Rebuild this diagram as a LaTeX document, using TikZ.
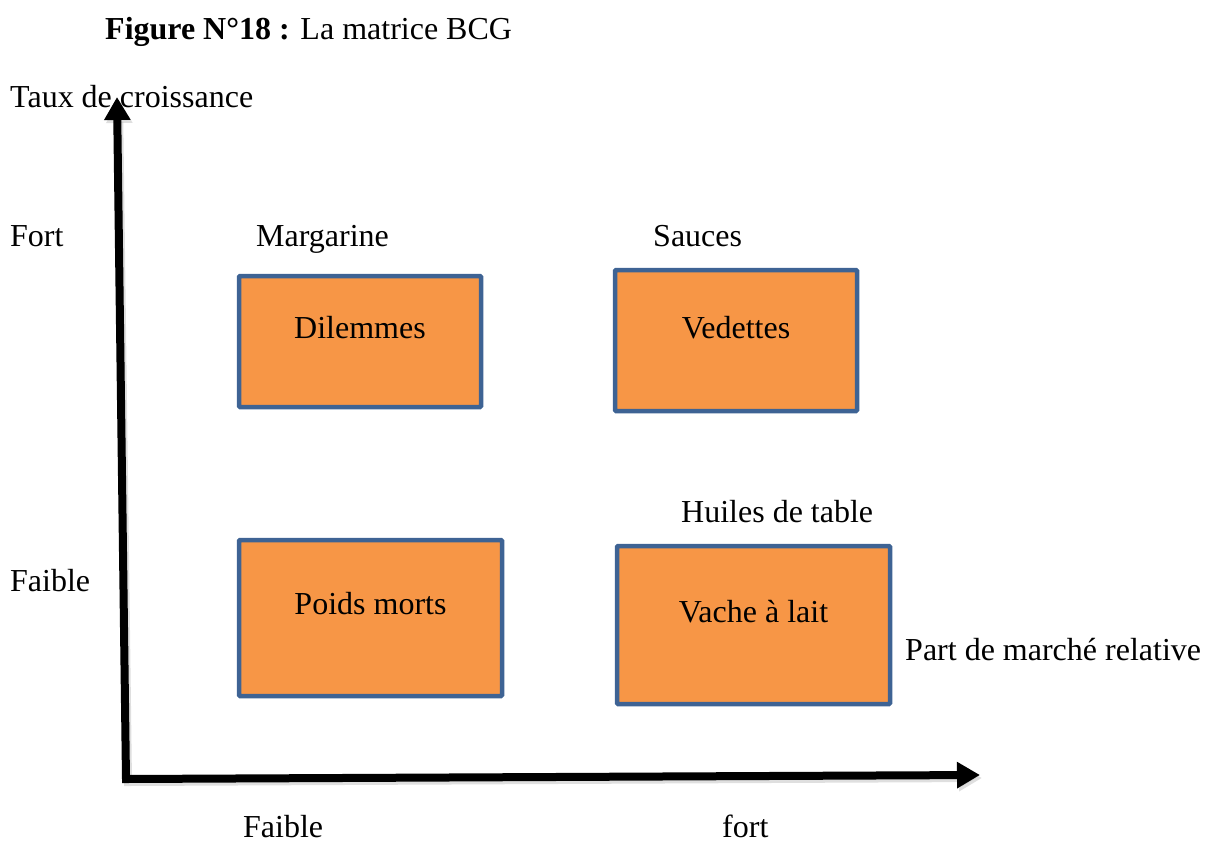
\documentclass[tikz,border=0pt]{standalone}
\usepackage{fontspec}
\setmainfont{Liberation Serif}
\usetikzlibrary{arrows.meta}

\definecolor{boxfill}{HTML}{F79646}
\definecolor{boxline}{HTML}{3E6394}

\tikzset{
  txt/.style={inner sep=0pt, anchor=base west, font=\fontsize{32}{38}\selectfont},
  boxtxt/.style={inner sep=0pt, anchor=base, font=\fontsize{32}{38}\selectfont},
  quad/.style={draw=boxline, fill=boxfill, line width=4.5pt, rounded corners=1pt},
  axis/.style={line width=8pt, line join=miter,
    arrows={Triangle[length=23pt,width=25pt]-Triangle[length=23pt,width=25pt]}},
  axisshadow/.style={axis, draw=black!25, opacity=0.5},
}

\begin{document}
\begin{tikzpicture}[x=1pt,y=-1pt]
\path[use as bounding box] (0,0) rectangle (1209,841);

% title
\node[txt] (title) at (105,39) {\textbf{Figure N°18 :} La matrice BCG};

% axes
\coordinate (ytip) at (117,97);
\coordinate (orig) at (126,779);
\coordinate (xtip) at (980,775);
\draw[axisshadow] ([shift={(2,3)}]ytip) -- ([shift={(2,3)}]orig) -- ([shift={(2,3)}]xtip);
\draw[axis] (ytip) -- (orig) -- (xtip);

% axis labels
\node[txt] (ylab)  at (10,107)  {Taux de croissance};
\node[txt] (yfort) at (10,246)  {Fort};
\node[txt] (yfaib) at (10,591)  {Faible};
\node[txt] (xlab)  at (905,660) {Part de marché relative};
\node[txt, text depth=0pt] (xfaib) at (243,837) {Faible};
\node[txt, text depth=0pt] (xfort) at (722,837) {fort};

% product names
\node[txt] (marg)  at (256,246) {Margarine};
\node[txt] (sauce) at (653,246) {Sauces};
\node[txt] (huile) at (681,522) {Huiles de table};

% quadrants
\draw[quad] (239,276) rectangle (481,407);
\draw[quad] (615,270) rectangle (857,411);
\draw[quad] (239,540) rectangle (502,696);
\draw[quad] (617,546) rectangle (890,704);

\node[boxtxt] (dil) at (360,338)   {Dilemmes};
\node[boxtxt] (ved) at (736,338)   {Vedettes};
\node[boxtxt] (pm)  at (370.5,614) {Poids morts};
\node[boxtxt] (val) at (753.5,622) {Vache à lait};
\end{tikzpicture}
\end{document}
